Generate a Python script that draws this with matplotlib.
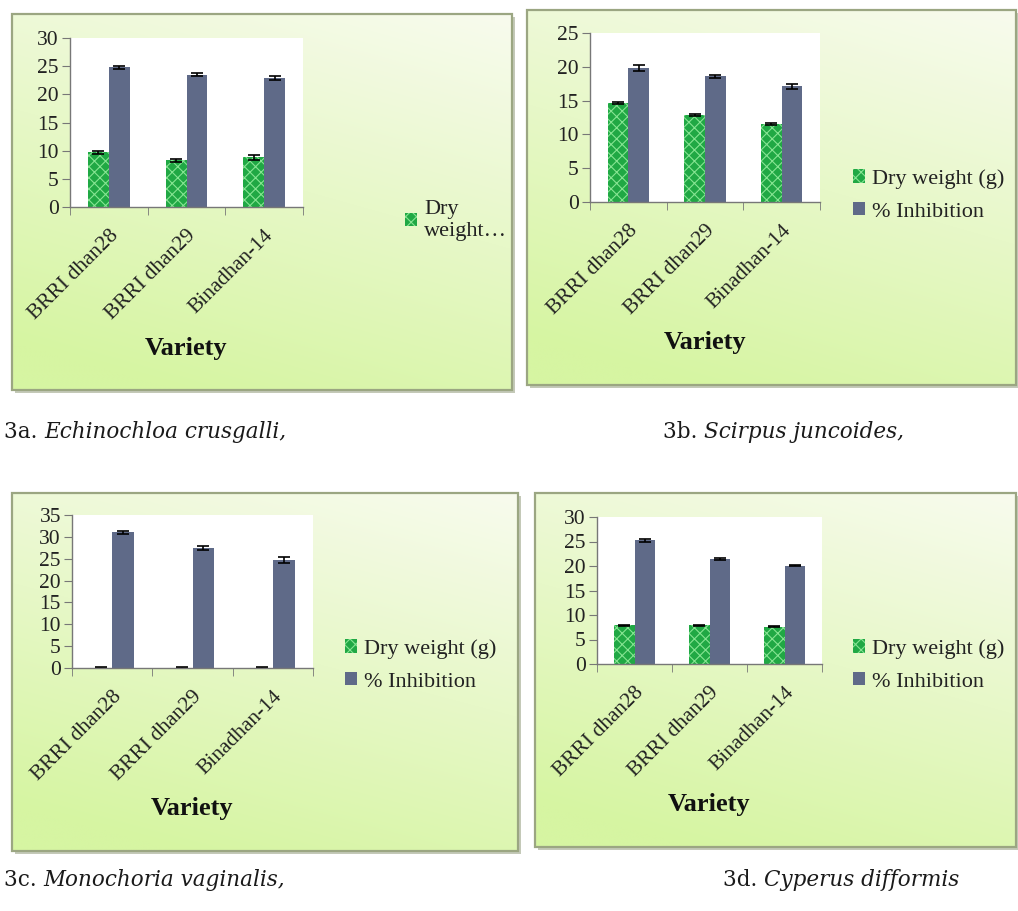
import matplotlib.pyplot as plt
import numpy as np
from matplotlib.patches import Rectangle, Patch

W, H = 1018, 911

varieties = ['BRRI dhan28', 'BRRI dhan29', 'Binadhan-14']

# 3a. Echinochloa crusgalli
dry_a = [9.7, 8.3, 8.8]
dry_a_err = [0.3, 0.3, 0.4]
inh_a = [24.8, 23.5, 22.9]
inh_a_err = [0.3, 0.2, 0.3]

# 3b. Scirpus juncoides
dry_b = [14.6, 12.8, 11.5]
dry_b_err = [0.15, 0.15, 0.15]
inh_b = [19.8, 18.6, 17.1]
inh_b_err = [0.4, 0.2, 0.4]

# 3c. Monochoria vaginalis
dry_c = [0.1, 0.1, 0.1]
dry_c_err = [0.05, 0.05, 0.05]
inh_c = [31.0, 27.4, 24.7]
inh_c_err = [0.4, 0.4, 0.6]

# 3d. Cyperus difformis
dry_d = [7.9, 7.9, 7.6]
dry_d_err = [0.15, 0.15, 0.15]
inh_d = [25.3, 21.4, 20.1]
inh_d_err = [0.3, 0.2, 0.2]

GREEN = '#20a844'
HATCH = '#86e492'
SLATE = '#5f6a88'
SERIF = 'Liberation Serif'

plt.rcParams['hatch.linewidth'] = 0.8

fig = plt.figure(figsize=(W / 100, H / 100), dpi=100, facecolor='white')


def px_box(x0, y0, x1, y1):
    return [x0 / W, 1 - y1 / H, (x1 - x0) / W, (y1 - y0) / H]


def fxy(x, y):
    return x / W, 1 - y / H


def draw_frame(x0, y0, x1, y1):
    # drop shadow
    sx0, sy0, sw, sh = px_box(x0 + 3, y0 + 3, x1 + 3, y1 + 3)
    fig.add_artist(Rectangle((sx0, sy0), sw, sh, transform=fig.transFigure,
                             facecolor='#c4c9b8', edgecolor='none', zorder=-2))
    bg = fig.add_axes(px_box(x0, y0, x1, y1), zorder=-1)
    ny, nx = 200, 200
    yy, xx = np.mgrid[0:1:ny * 1j, 0:1:nx * 1j]
    t = np.clip(0.8 * yy + 0.3 * (1 - xx), 0, 1)
    top = np.array([248, 251, 238]) / 255
    bot = np.array([214, 245, 162]) / 255
    img = top[None, None, :] * (1 - t[..., None]) + bot[None, None, :] * t[..., None]
    bg.imshow(img, aspect='auto', extent=[0, 1, 0, 1], interpolation='bilinear')
    bg.set_xlim(0, 1)
    bg.set_ylim(0, 1)
    bg.set_axis_off()
    bg.add_patch(Rectangle((0, 0), 1, 1, transform=bg.transAxes, fill=False,
                           edgecolor='#9ba682', linewidth=1.6, clip_on=False))


def draw_chart(frame, plot, ymax, dry, dry_err, inh, inh_err, legend_xy,
               dry_label='Dry weight (g)', show_inh=True):
    draw_frame(*frame)
    ax = fig.add_axes(px_box(*plot), zorder=2)
    ax.set_facecolor('white')
    x = np.arange(len(varieties)) + 0.5
    w = 0.27
    err_kw = dict(ecolor='black', capsize=4, error_kw=dict(elinewidth=1.2, capthick=1.2))
    ax.bar(x - w / 2, dry, w, yerr=dry_err, color=GREEN, edgecolor=HATCH,
           linewidth=0, hatch='xxx', **err_kw)
    ax.bar(x + w / 2, inh, w, yerr=inh_err, color=SLATE, linewidth=0, **err_kw)
    ax.set_xlim(0, len(varieties))
    ax.set_ylim(0, ymax)
    ax.set_yticks(np.arange(0, ymax + 1, 5))
    ax.set_xticks(x)
    ax.set_xticklabels(varieties, rotation=45, ha='right', rotation_mode='anchor',
                       fontsize=15.5, family=SERIF, color='#222222')
    ax.set_xticks(np.arange(len(varieties) + 1), minor=True)
    ax.tick_params(axis='x', which='major', length=0, pad=14)
    ax.tick_params(axis='x', which='minor', length=6, color='#777777', direction='out')
    ax.tick_params(axis='y', length=6, color='#777777', direction='out',
                   labelsize=15.5, pad=2, labelcolor='#222222')
    for lab in ax.get_yticklabels():
        lab.set_family(SERIF)
    for side in ('top', 'right'):
        ax.spines[side].set_visible(False)
    for side in ('left', 'bottom'):
        ax.spines[side].set_color('#777777')
        ax.spines[side].set_linewidth(1.0)

    cx = (plot[0] + plot[2]) / 2
    fig.text(*fxy(cx, plot[3] + 141), 'Variety', ha='center', va='center',
             fontsize=19, fontweight='bold', family=SERIF, color='#111111')

    handles = [Patch(facecolor=GREEN, edgecolor=HATCH, hatch='xxx', linewidth=0)]
    labels = [dry_label]
    if show_inh:
        handles.append(Patch(facecolor=SLATE, linewidth=0))
        labels.append('% Inhibition')
    leg = fig.legend(handles, labels, loc='upper left', bbox_to_anchor=fxy(*legend_xy),
                     frameon=False, handlelength=0.55, handleheight=0.55,
                     handletextpad=0.3, labelspacing=0.6,
                     prop=dict(family=SERIF, size=16), borderpad=0, borderaxespad=0)
    for t in leg.get_texts():
        t.set_color('#222222')
    return ax


draw_chart((12, 14, 512, 390), (70, 38, 303, 207), 30,
           dry_a, dry_a_err, inh_a, inh_a_err, (405, 200),
           dry_label='Dry\nweight\u2026', show_inh=False)
draw_chart((527, 10, 1016, 385), (590, 33, 820, 202), 25,
           dry_b, dry_b_err, inh_b, inh_b_err, (853, 169))
draw_chart((12, 493, 518, 851), (72, 515, 313, 668), 35,
           dry_c, dry_c_err, inh_c, inh_c_err, (345, 639))
draw_chart((535, 493, 1016, 847), (597, 517, 822, 664), 30,
           dry_d, dry_d_err, inh_d, inh_d_err, (853, 639))

# figure captions with italic species names
overlay = fig.add_axes([0, 0, 1, 1], zorder=5)
overlay.set_axis_off()
captions = [((4, 432), '3a.', 'Echinochloa crusgalli,'),
            ((663, 432), '3b.', 'Scirpus juncoides,'),
            ((4, 880), '3c.', 'Monochoria vaginalis,'),
            ((723, 880), '3d.', 'Cyperus difformis')]
for (cx, cy), num, species in captions:
    t1 = overlay.text(*fxy(cx, cy), num + ' ', transform=fig.transFigure,
                      ha='left', va='center', fontsize=15.5, family='DejaVu Serif',
                      color='#1a1a1a')
    overlay.annotate(species, xy=(1, 0), xycoords=t1, ha='left', va='bottom',
                     fontsize=15.5, family='DejaVu Serif', style='italic',
                     color='#1a1a1a')

fig.savefig('out.png', dpi=100, facecolor='white')
